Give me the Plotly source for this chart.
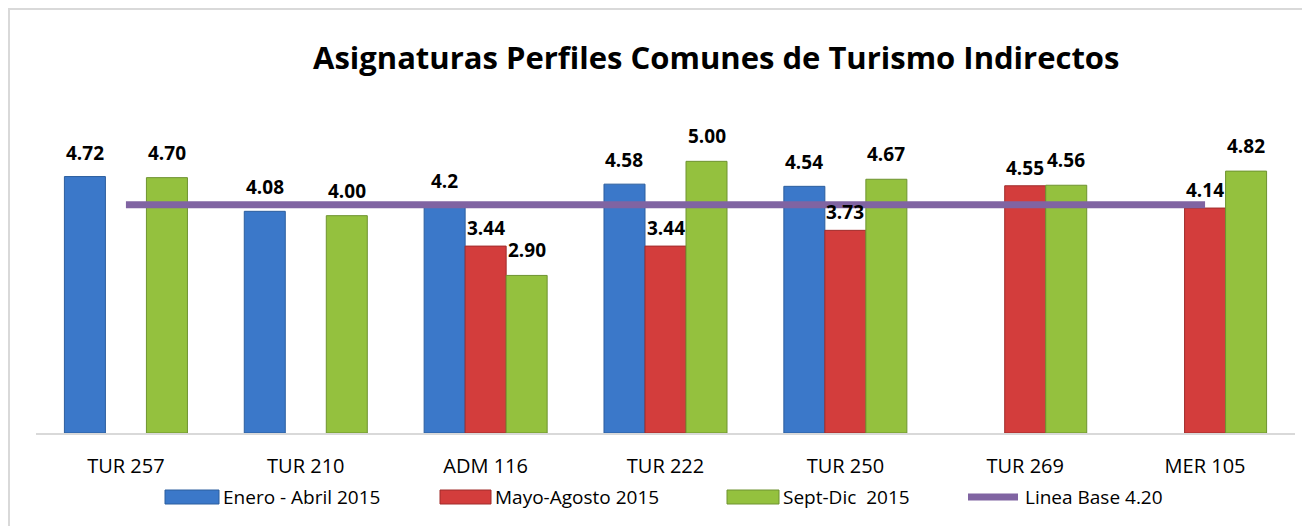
import plotly.graph_objects as go

categories = ["TUR 257", "TUR 210", "ADM 116", "TUR 222", "TUR 250", "TUR 269", "MER 105"]
enero_abril = [4.72, 4.08, 4.2, 4.58, 4.54, None, None]
mayo_agosto = [None, None, 3.44, 3.44, 3.73, 4.55, 4.14]
sept_dic = [4.70, 4.00, 2.90, 5.00, 4.67, 4.56, 4.82]
linea_base = [4.20] * len(categories)

series_names = ["Enero - Abril 2015", "Mayo-Agosto 2015", "Sept-Dic  2015"]
line_name = "Linea Base 4.20"
label_texts = {
    "Enero - Abril 2015": ["4.72", "4.08", "4.2", "4.58", "4.54", None, None],
    "Mayo-Agosto 2015": [None, None, "3.44", "3.44", "3.73", "4.55", "4.14"],
    "Sept-Dic  2015": ["4.70", "4.00", "2.90", "5.00", "4.67", "4.56", "4.82"],
}

colors = ["#3B78C9", "#D33D3C", "#94C13E"]
edge_colors = ["#2C5E9E", "#A02C2B", "#6E9330"]
line_color = "#8064A2"
series_values = [enero_abril, mayo_agosto, sept_dic]

W, H = 1310, 526
ml, mr, mt, mb = 28, 23, 99, 101
pw = W - ml - mr
ph = H - mt - mb

FONT = "'Open Sans', Lato, Carlito, Calibri, sans-serif"


def px_x(fx):
    return (fx - ml) / pw


def px_y(fy):
    return (H - mb - fy) / ph


fig = go.Figure()
for name, vals, c, ec in zip(series_names, series_values, colors, edge_colors):
    fig.add_trace(go.Bar(
        x=categories, y=vals, name=name,
        marker=dict(color=c, line=dict(color=ec, width=1)),
    ))

fig.add_trace(go.Scatter(
    x=categories, y=linea_base, name=line_name, mode="lines",
    line=dict(color=line_color, width=7),
))

# data labels via annotations (offset per series within group)
cat_w = pw / len(categories)
bargap = 0.316
bar_w = cat_w * (1 - bargap) / 3
offsets = [-bar_w, 0, bar_w]
yshifts = [24, 18, 25]
annotations = []
for name, vals, off, ys in zip(series_names, series_values, offsets, yshifts):
    for cat, v, t in zip(categories, vals, label_texts[name]):
        if v is None:
            continue
        annotations.append(dict(
            x=cat, y=v, xref="x", yref="y", text=t, showarrow=False,
            xshift=off, yshift=ys, yanchor="middle",
            font=dict(family=FONT, size=19, color="#000000", weight="bold"),
        ))

shapes = []
# chart frame border (top and left edges visible)
shapes.append(dict(type="rect", xref="paper", yref="paper",
                   x0=px_x(1), x1=px_x(W + 20), y0=px_y(H + 20), y1=px_y(1),
                   line=dict(color="#D9D9D9", width=2), layer="below"))

# custom legend with wide swatches
leg_y = 489
leg_items = [
    (series_names[0], 157, 211, colors[0], edge_colors[0]),
    (series_names[1], 432, 483, colors[1], edge_colors[1]),
    (series_names[2], 719, 771, colors[2], edge_colors[2]),
]
for name, x0, x1, c, ec in leg_items:
    shapes.append(dict(type="rect", xref="paper", yref="paper",
                       x0=px_x(x0), x1=px_x(x1), y0=px_y(leg_y + 7), y1=px_y(leg_y - 7),
                       fillcolor=c, line=dict(color=ec, width=1)))
    annotations.append(dict(x=px_x(x1 + 2), y=px_y(leg_y), xref="paper", yref="paper",
                            text=name, showarrow=False, xanchor="left", yanchor="middle",
                            font=dict(family=FONT, size=19, color="#000000")))
shapes.append(dict(type="line", xref="paper", yref="paper",
                   x0=px_x(960), x1=px_x(1010), y0=px_y(leg_y), y1=px_y(leg_y),
                   line=dict(color=line_color, width=7)))
annotations.append(dict(x=px_x(1015), y=px_y(leg_y), xref="paper", yref="paper",
                        text=line_name, showarrow=False, xanchor="left", yanchor="middle",
                        font=dict(family=FONT, size=19, color="#000000")))

fig.update_layout(
    width=W, height=H,
    margin=dict(l=ml, r=mr, t=mt, b=mb),
    paper_bgcolor="white", plot_bgcolor="white",
    barmode="group", bargap=bargap, bargroupgap=0,
    title=dict(text="<b>Asignaturas Perfiles Comunes de Turismo Indirectos</b>",
               x=px_x(305), xref="paper", xanchor="left",
               y=1 - 50 / H, yref="container", yanchor="middle",
               font=dict(family=FONT, size=31, color="#000000")),
    xaxis=dict(showline=True, linecolor="#D9D9D9", linewidth=2,
               showgrid=False, ticks="", ticklen=0, ticklabelstandoff=14,
               tickfont=dict(family=FONT, size=20, color="#000000")),
    yaxis=dict(range=[0, 6], visible=False, showgrid=False, zeroline=False),
    annotations=annotations,
    shapes=shapes,
    showlegend=False,
)

fig.write_html("out.html")
